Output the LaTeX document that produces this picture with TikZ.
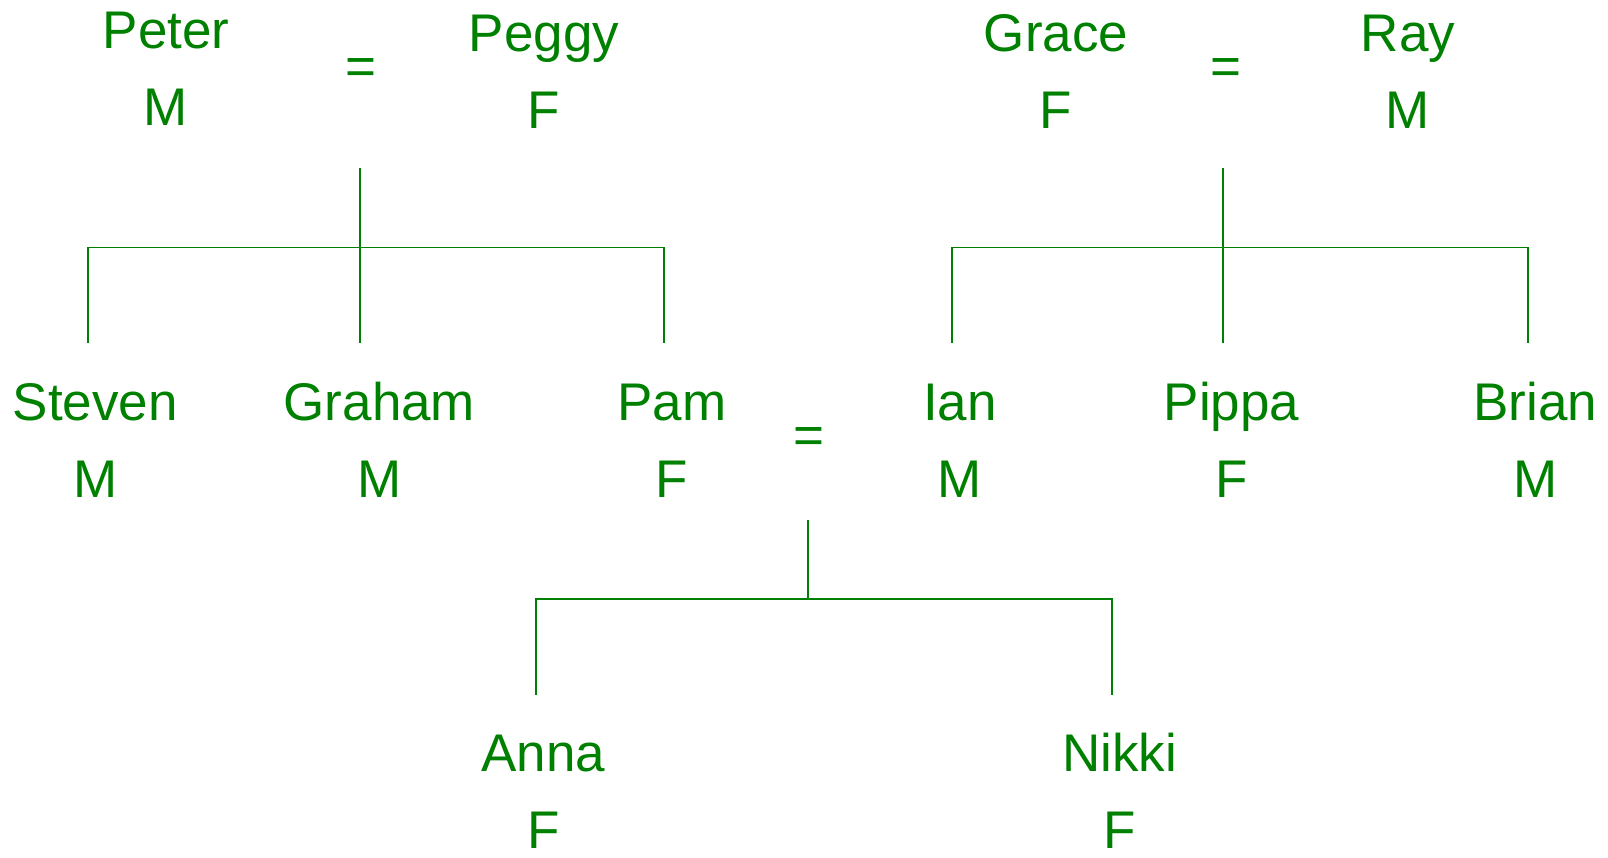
\documentclass[tikz,border=0pt]{standalone}
\usepackage{fontspec}
\setmainfont{Liberation Sans}
\usetikzlibrary{positioning}

\definecolor{kin}{RGB}{0,128,0}

\tikzset{
  person/.style={anchor=base, inner sep=0pt, text=kin,
    font=\fontsize{53}{60}\selectfont},
  wed/.style={inner sep=0pt, text=kin, font=\fontsize{53}{60}\selectfont},
  tie/.style={draw=kin, line width=1.9pt},
}

% name node plus the sex letter under it
\newcommand{\Person}[5]{%
  \node[person] (#1) at (#2,#3) {#4};
  \node[person] (#1S) at ([yshift=-77pt]#1.base) {#5};
}

\begin{document}
\begin{tikzpicture}[x=1pt,y=-1pt]
  \useasboundingbox (0,0) rectangle (1608,857);

  % grandparents
  \Person{peter}{166}{48.3}{Peter}{M}
  \Person{peggy}{544}{51.7}{Peggy}{F}
  \Person{grace}{1056}{51.7}{Grace}{F}
  \Person{ray}{1408}{51.7}{Ray}{M}
  \node[wed] (pp) at (361,71.5) {=};
  \node[wed] (gr) at (1225.5,71.5) {=};

  % children
  \Person{steven}{95.4}{420}{Steven}{M}
  \Person{graham}{379.4}{420}{Graham}{M}
  \Person{pam}{671.7}{420}{Pam}{F}
  \Person{ian}{960}{420}{Ian}{M}
  \Person{pippa}{1231.6}{420}{Pippa}{F}
  \Person{brian}{1535.2}{420}{Brian}{M}
  \node[wed] (pi) at (809,440) {=};

  % grandchildren
  \Person{anna}{543.5}{771.7}{Anna}{F}
  \Person{nikki}{1119.8}{771.7}{Nikki}{F}

  % line ends
  \coordinate (ppDrop) at (359.8,168.3);
  \coordinate (ppBar) at (359.8,247.5);
  \coordinate (stevenUp) at (88,343.3);
  \coordinate (grahamUp) at (359.8,343.3);
  \coordinate (pamUp) at (664,343.3);

  \coordinate (grDrop) at (1223.4,168.3);
  \coordinate (grBar) at (1223.4,247.5);
  \coordinate (ianUp) at (951.7,343.3);
  \coordinate (pippaUp) at (1223.4,343.3);
  \coordinate (brianUp) at (1528,343.3);

  \coordinate (piDrop) at (807.7,520);
  \coordinate (piBar) at (807.7,599.3);
  \coordinate (annaUp) at (536.3,695);
  \coordinate (nikkiUp) at (1111.7,695);

  % Peter = Peggy
  \draw[tie] (ppDrop) -- (grahamUp);
  \draw[tie] (stevenUp) -- (stevenUp |- ppBar) -- (pamUp |- ppBar) -- (pamUp);

  % Grace = Ray
  \draw[tie] (grDrop) -- (pippaUp);
  \draw[tie] (ianUp) -- (ianUp |- grBar) -- (brianUp |- grBar) -- (brianUp);

  % Pam = Ian
  \draw[tie] (piDrop) -- (piBar);
  \draw[tie] (annaUp) -- (annaUp |- piBar) -- (nikkiUp |- piBar) -- (nikkiUp);
\end{tikzpicture}
\end{document}
